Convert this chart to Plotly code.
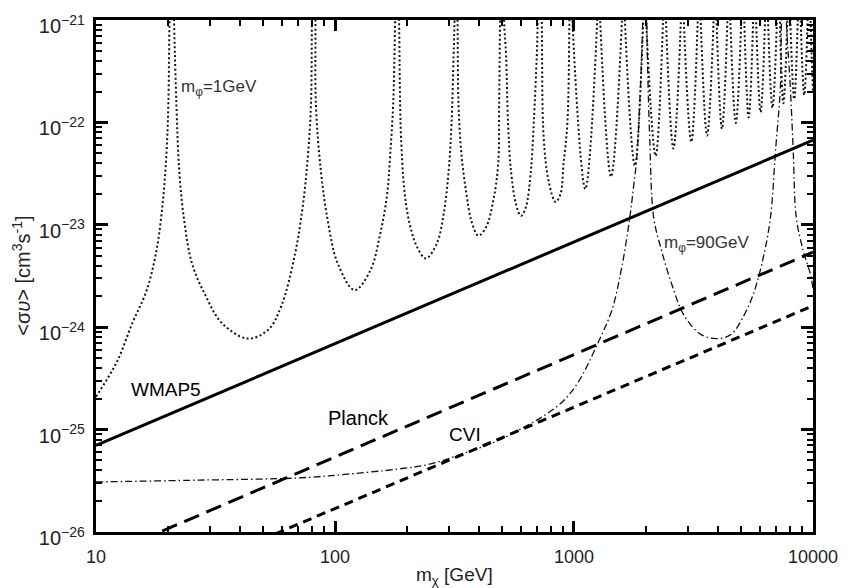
import plotly.graph_objects as go

# ---------------- data ----------------
# straight-line sensitivity bounds: <sigma v> at m_chi = 10 and 10000 GeV
line_m = [10, 10000]
wmap5_sv = [7.0e-26, 6.7e-23]
planck_sv = [5.4e-27, 5.4e-24]
cvi_sv = [1.73e-27, 1.62e-24]

# axis ticks
x_ticks = [10, 100, 1000, 10000]
x_tick_text = ["10", "100", "1000", "10000"]

# Sommerfeld-enhanced curve, m_phi = 1 GeV (dotted); resonance tops lie above the frame (1e-20)
dot_m = [
    10, 12.2, 14.2, 16.3, 17.9, 19.0, 19.7, 20.07, 20.3,
    20.7,
    21.2, 21.7, 22.3, 23.4, 25.2, 28.8, 33.6, 43.1, 52.6, 59.6, 68.1, 73.5, 77.1, 79.3, 80.1,
    81.6,
    82.8, 83.2, 87.3, 93.3, 102.6, 120.8, 140.6, 154.6, 165.3, 170.2, 175.1, 178.5,
    181.9,
    185.4, 187.3, 189.0, 194.5, 204.0, 220.1, 239.9, 266.5, 284.9, 298.8, 307.5, 313.4, 316.4,
    321.0,
    325.6, 328.7, 338.2, 354.8, 372.2, 397.9, 429.4, 459.1, 481.6, 486.2, 490.7,
    500,
    509.9, 519.7, 529.7, 545.1, 571.7, 599.7, 629.0, 659.7, 678.9, 698.6, 705.3,
    718.9,
    732.8, 746.9, 783.4, 837.4, 878.3, 903.7, 938.9, 957,
    971,
    985, 1115, 1251, 1269,
    1287, 1429, 1587, 1610,
    1633, 1797, 1949, 1977,
    2005, 2196, 2358, 2392,
    2426, 2606, 2801, 2841,
    2882, 3095, 3295, 3342,
    3390, 3605, 3838, 3893,
    3949, 4160, 4385, 4448,
    4512, 4754, 5012, 5084,
    5157, 5383, 5619, 5700,
    5782, 6036, 6302, 6393,
    6485, 6768, 7066, 7168,
    7271, 7516, 7811, 7923,
    8037, 8349, 8634, 8758,
    8884, 9194, 9497, 9634,
    9773, 10000,
]
dot_sv = [
    2.1e-25, 4.54e-25, 1.10e-24, 2.30e-24, 5.61e-24, 1.60e-23, 4.85e-23, 1.48e-22, 1e-21,
    1e-20,
    1e-21, 1.48e-22, 3.33e-23, 1.09e-23, 4.2e-24, 2.01e-24, 1.10e-24, 7.74e-25, 9.46e-25, 1.61e-24, 5.25e-24, 1.60e-23, 4.85e-23, 1.48e-22, 1e-21,
    1e-20,
    1e-21, 1.48e-22, 3.33e-23, 1.09e-23, 4.2e-24, 2.30e-24, 3.60e-24, 8.18e-24, 2.0e-23, 4.85e-23, 1.48e-22, 1e-21,
    1e-20,
    1e-21, 1.48e-22, 7.08e-23, 2.33e-23, 1.09e-23, 6.12e-24, 4.69e-24, 6.55e-24, 1.28e-23, 3.33e-23, 1.01e-22, 4.49e-22, 1e-21,
    1e-20,
    1e-21, 1.48e-22, 4.85e-23, 2.0e-23, 1.09e-23, 7.83e-24, 9.57e-24, 1.71e-23, 3.88e-23, 1.48e-22, 1e-21,
    1e-20,
    1e-21, 4.49e-22, 1.01e-22, 3.33e-23, 1.60e-23, 1.22e-23, 1.49e-23, 3.33e-23, 1.01e-22, 4.49e-22, 1e-21,
    1e-20,
    1e-21, 7.08e-23, 2.66e-23, 1.67e-23, 2.0e-23, 3.88e-23, 1.01e-22, 1e-21,
    1e-20,
    1e-21, 2.24e-23, 1e-21, 1e-20,
    1e-21, 2.95e-23, 1e-21, 1e-20,
    1e-21, 3.78e-23, 1e-21, 1e-20,
    1e-21, 4.71e-23, 1e-21, 1e-20,
    1e-21, 5.55e-23, 1e-21, 1e-20,
    1e-21, 6.44e-23, 1e-21, 1e-20,
    1e-21, 7.45e-23, 1e-21, 1e-20,
    1e-21, 8.65e-23, 1e-21, 1e-20,
    1e-21, 9.89e-23, 1e-21, 1e-20,
    1e-21, 1.12e-22, 1e-21, 1e-20,
    1e-21, 1.26e-22, 1e-21, 1e-20,
    1e-21, 1.39e-22, 1e-21, 1e-20,
    1e-21, 1.54e-22, 1e-21, 1e-20,
    1e-21, 1.69e-22, 1e-21, 1e-20,
    1e-21, 1.85e-22, 1e-21, 1e-20,
    1e-21, 2.0e-22,
]

# Sommerfeld-enhanced curve, m_phi = 90 GeV (dash-dot)
dd_m = [10, 27, 70, 113, 182, 249, 345, 473, 647, 761,
        895, 1042, 1262, 1442, 1587, 1713, 1780, 1831, 1885, 1921,
        1939, 1975, 2015, 2034, 2073, 2155, 2325, 2557, 2895, 3406,
        3967, 4535, 5132, 5647, 6212, 6641, 6966, 7307, 7376, 7550,
        7737, 8036, 8271, 8511, 9099, 9727, 10000]
dd_sv = [3.08e-26, 3.21e-26, 3.37e-26, 3.67e-26, 4.11e-26, 4.59e-26, 5.86e-26, 7.66e-26, 1.12e-25, 1.40e-25,
         1.87e-25, 2.91e-25, 7.08e-25, 1.48e-24, 3.93e-24, 1.19e-23, 2.49e-23, 4.44e-23, 1.58e-22, 4.80e-22,
         1e-21, 1e-20, 1e-21, 3.29e-22, 7.41e-23, 1.18e-23, 5.61e-24, 2.69e-24, 1.29e-24, 8.47e-25,
         7.74e-25, 8.47e-25, 1.29e-24, 2.15e-24, 4.91e-24, 1.19e-23, 5.19e-23, 2.25e-22, 1e-21, 1e-20,
         1e-21, 2.25e-22, 5.19e-23, 1.19e-23, 5.61e-24, 3.37e-24, 2.41e-24]

# ---------------- figure ----------------
FONT = "Liberation Sans, Arial, Helvetica, sans-serif"
fig = go.Figure()

fig.add_trace(go.Scatter(x=dot_m, y=dot_sv, mode="lines",
                         line=dict(color="#111111", width=2, dash="2px,2.5px", shape="spline", smoothing=1)))
fig.add_trace(go.Scatter(x=dd_m, y=dd_sv, mode="lines",
                         line=dict(color="#111111", width=1.3, dash="7px,3px,1.5px,3px", shape="spline", smoothing=1)))
fig.add_trace(go.Scatter(x=line_m, y=wmap5_sv, mode="lines",
                         line=dict(color="black", width=3)))
fig.add_trace(go.Scatter(x=line_m, y=planck_sv, mode="lines",
                         line=dict(color="black", width=3, dash="16px,8px")))
fig.add_trace(go.Scatter(x=line_m, y=cvi_sv, mode="lines",
                         line=dict(color="black", width=3, dash="9px,6px")))

axis_common = dict(
    type="log", showgrid=False, zeroline=False,
    showline=True, linewidth=3, linecolor="black", mirror="ticks",
    ticks="inside", tickwidth=2.5, tickcolor="black",
    minor=dict(ticks="inside", ticklen=6, tickwidth=2, tickcolor="black", dtick="D1", showgrid=False),
)
fig.update_xaxes(**axis_common, range=[0.9999, 4.0001], ticklen=11,
                 tickmode="array", tickvals=x_ticks, ticktext=x_tick_text,
                 tickfont=dict(family=FONT, size=18, color="#222222"), ticklabelstandoff=6)
fig.update_yaxes(**axis_common, range=[-26.0002, -20.9998], ticklen=12,
                 tickmode="linear", tick0=0, dtick=1,
                 exponentformat="power", showexponent="all",
                 tickfont=dict(family=FONT, size=16, color="#222222"), ticklabelstandoff=5,
                 ticklabelshift=6)

ann_font = dict(family=FONT, size=19, color="black")
small_font = dict(family=FONT, size=17, color="#333333")


def label(text, x, y, font, angle=0):
    fig.add_annotation(text=text, xref="paper", yref="paper", x=x, y=y, xanchor="center", yanchor="middle",
                       textangle=angle, showarrow=False, font=font)


label("WMAP5", 0.098, 0.278, ann_font)
label("Planck", 0.366, 0.222, dict(family=FONT, size=20, color="black"))
label("CVI", 0.514, 0.191, ann_font)
label("m<sub>φ</sub>=1GeV", 0.171, 0.867, small_font)
label("m<sub>φ</sub>=90GeV", 0.852, 0.562, small_font)

# axis titles
label("m<sub>χ</sub> [GeV]", 0.5, -0.085, dict(family=FONT, size=19, color="#222222"))
label("&lt;σ<i>υ</i>&gt; [cm<sup>3</sup>s<sup>-1</sup>]", -0.105, 0.5, dict(family=FONT, size=20, color="#222222"), -90)

fig.update_layout(
    width=850, height=588,
    margin=dict(l=96, r=30, t=14, b=56),
    paper_bgcolor="white", plot_bgcolor="white",
    showlegend=False, hovermode=False,
)

fig.write_html("out.html")
